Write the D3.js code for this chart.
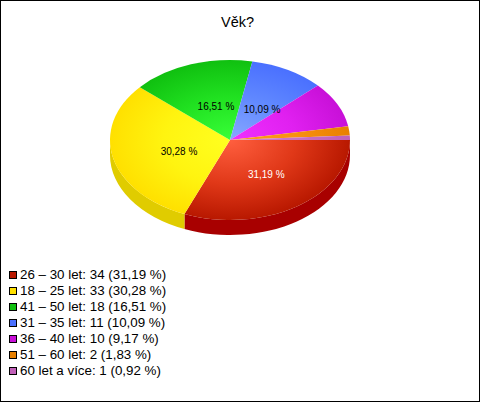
<!DOCTYPE html>
<html>
<head>
<meta charset="utf-8">
<script src="https://d3js.org/d3.v7.min.js"></script>
<style>
	html, body { margin: 0; padding: 0; background: #fff; }
	svg { display: block; }
	text { font-family: "Liberation Sans", Arial, sans-serif; }
</style>
</head>
<body>
<script type="text/javascript">

	var categories = ["26 – 30 let", "18 – 25 let", "41 – 50 let", "31 – 35 let", "36 – 40 let", "51 – 60 let", "60 let a více"];
	var counts = [34, 33, 18, 11, 10, 2, 1];
	var percents = ["31,19", "30,28", "16,51", "10,09", "9,17", "1,83", "0,92"];
	var labelled = [true, true, true, true, false, false, false];

	var edgeColors = ["#b81800", "#ffe000", "#10c010", "#4a70ff", "#c810d8", "#e88000", "#c060b8"];
	var midColors = ["#e03818", "#fff410", "#20e020", "#6088ff", "#e020f0", "#f89010", "#c870c4"];
	var centerColors = ["#ff5f3f", "#ffff20", "#38ff38", "#88a8ff", "#f030ff", "#ffa020", "#d080d0"];
	var sideColors = ["#a80000", "#e0cc00"];
	var labelColors = ["#fff", "#000", "#000", "#000"];

	var w = 480, h = 402;
	var cx = 230, cy = 140, rx = 120, ry = 80, depth = 15;
	var squash = ry / rx;

	var svg = d3.select("body").append("svg")
		.attr("width", w)
		.attr("height", h);

	svg.append("rect")
		.attr("x", 0.5).attr("y", 0.5)
		.attr("width", w - 1).attr("height", h - 1)
		.attr("fill", "#fff")
		.attr("stroke", "#000");

	svg.append("text")
		.attr("x", 237.5)
		.attr("y", 27)
		.attr("text-anchor", "middle")
		.attr("font-size", 14.5)
		.text("Věk?");

	var defs = svg.append("defs");
	categories.forEach(function(c, i) {
		var g = defs.append("radialGradient")
			.attr("id", "slice" + i)
			.attr("gradientUnits", "userSpaceOnUse")
			.attr("cx", 0).attr("cy", 0).attr("r", rx);
		g.append("stop").attr("offset", 0).attr("stop-color", centerColors[i]);
		g.append("stop").attr("offset", 0.55).attr("stop-color", midColors[i]);
		g.append("stop").attr("offset", 1).attr("stop-color", edgeColors[i]);
	});

	// d3.pie counts angles from north, the first slice starts at east and runs clockwise
	var pie = d3.pie().sort(null).startAngle(Math.PI / 2).endAngle(Math.PI * 2.5);
	var slices = pie(counts);
	var arc = d3.arc().innerRadius(0).outerRadius(rx);

	var chart = svg.append("g")
		.attr("transform", "translate(" + cx + "," + cy + ") scale(1," + squash + ")");

	// rim of the front half, only the first two slices reach it
	function rim(a0, a1) {
		var p = d3.path();
		var d = depth / squash;
		p.moveTo(rx * Math.cos(a0), rx * Math.sin(a0));
		p.arc(0, 0, rx, a0, a1);
		p.lineTo(rx * Math.cos(a1), rx * Math.sin(a1) + d);
		p.arc(0, d, rx, a1, a0, true);
		p.closePath();
		return p.toString();
	}

	chart.selectAll("path.side")
		.data(slices.slice(0, 2))
		.enter()
		.append("path")
		.attr("class", "side")
		.attr("d", function(d) {
			return rim(d.startAngle - Math.PI / 2, Math.min(d.endAngle - Math.PI / 2, Math.PI));
		})
		.attr("fill", function(d, i) { return sideColors[i]; });

	chart.selectAll("path.top")
		.data(slices)
		.enter()
		.append("path")
		.attr("class", "top")
		.attr("d", arc)
		.attr("fill", function(d, i) { return "url(#slice" + i + ")"; });

	var labelArc = d3.arc().innerRadius(57).outerRadius(57);
	svg.selectAll("text.pct")
		.data(slices.filter(function(d, i) { return labelled[i]; }))
		.enter()
		.append("text")
		.attr("class", "pct")
		.attr("x", function(d) { return cx + 4.5 + labelArc.centroid(d)[0]; })
		.attr("y", function(d) { return cy + labelArc.centroid(d)[1] * squash + 6; })
		.attr("text-anchor", "middle")
		.attr("font-size", 10)
		.attr("fill", function(d, i) { return labelColors[i]; })
		.text(function(d, i) { return percents[i] + " %"; });

	var legendY = d3.scaleBand()
		.domain(d3.range(categories.length))
		.range([265, 377]);

	var legend = svg.selectAll("g.legend")
		.data(categories)
		.enter()
		.append("g")
		.attr("class", "legend")
		.attr("transform", function(d, i) { return "translate(0," + legendY(i) + ")"; });

	legend.append("rect")
		.attr("x", 9.5).attr("y", 6.5)
		.attr("width", 7).attr("height", 7)
		.attr("fill", function(d, i) { return edgeColors[i]; })
		.attr("stroke", "#000");

	legend.append("text")
		.attr("x", 20)
		.attr("y", 14)
		.attr("font-size", 13.35)
		.attr("fill", "#000")
		.text(function(d, i) { return d + ": " + counts[i] + " (" + percents[i] + " %)"; });

</script>
</body>
</html>
